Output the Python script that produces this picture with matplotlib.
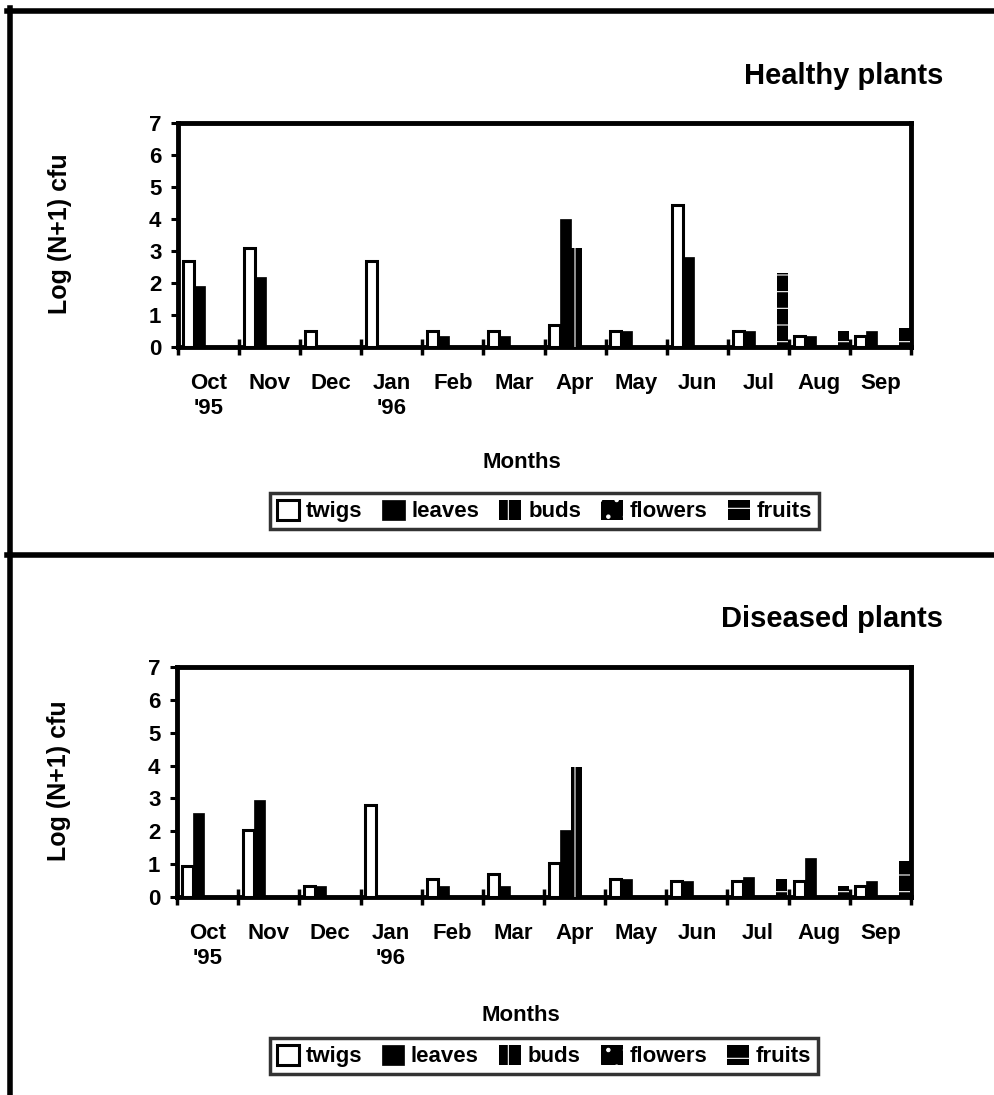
import matplotlib
matplotlib.use("Agg")
import matplotlib.pyplot as plt
from matplotlib.lines import Line2D
import numpy as np

plt.rcParams["font.family"] = ["Liberation Sans", "DejaVu Sans"]
plt.rcParams["font.weight"] = "bold"
plt.rcParams["hatch.linewidth"] = 0.8

months = ["Oct\n'95", "Nov", "Dec", "Jan\n'96", "Feb", "Mar",
          "Apr", "May", "Jun", "Jul", "Aug", "Sep"]
parts = ["twigs", "leaves", "buds", "flowers", "fruits"]

# healthy plants, Log (N+1) cfu
twigs_h = [2.7, 3.1, 0.5, 2.7, 0.5, 0.5, 0.7, 0.5, 4.45, 0.5, 0.35, 0.35]
leaves_h = [1.9, 2.2, 0, 0, 0.35, 0.35, 4.0, 0.5, 2.8, 0.5, 0.35, 0.5]
buds_h = [0, 0, 0, 0, 0, 0, 3.1, 0, 0, 0, 0, 0]
flowers_h = [0, 0, 0, 0, 0, 0, 0, 0, 0, 0, 0, 0]
fruits_h = [0, 0, 0, 0, 0, 0, 0, 0, 0, 2.3, 0.5, 0.6]

# diseased plants
twigs_d = [0.95, 2.05, 0.35, 2.8, 0.55, 0.7, 1.05, 0.55, 0.5, 0.5, 0.5, 0.35]
leaves_d = [2.55, 2.95, 0.35, 0, 0.35, 0.35, 2.05, 0.55, 0.5, 0.6, 1.2, 0.5]
buds_d = [0, 0, 0, 0, 0, 0, 3.95, 0, 0, 0, 0, 0]
flowers_d = [0, 0, 0, 0, 0, 0, 0, 0, 0, 0, 0, 0]
fruits_d = [0, 0, 0, 0, 0, 0, 0, 0, 0, 0.55, 0.35, 1.1]

STYLES = [
    dict(facecolor="white", edgecolor="black", lw=2.2),
    dict(facecolor="black", edgecolor="black", lw=0.5),
    dict(facecolor="black", edgecolor="white", lw=0, hatch="|"),
    dict(facecolor="black", edgecolor="white", lw=0, hatch="."),
    dict(facecolor="black", edgecolor="white", lw=0, hatch="-"),
]
FS = 16
W = 995 / 100
H = 1095 / 100


def px_ax(fig, x0, y0, x1, y1):
    # pixel box (top-left origin) -> figure axes
    return fig.add_axes([x0 / 995, 1 - y1 / 1095, (x1 - x0) / 995, (y1 - y0) / 1095])


def panel(ax, series, title, leg_y):
    n = len(months)
    xs = np.arange(n)
    bw = 0.18
    handles = []
    for k, (vals, st) in enumerate(zip(series, STYLES)):
        h = ax.bar(xs + 0.08 + k * bw, vals, width=bw, align="edge", zorder=3, **st)
        handles.append(h)
    ax.set_xlim(0, n)
    ax.set_ylim(0, 7)
    ax.set_yticks(range(8))
    ax.tick_params(axis="y", direction="out", length=5, width=2.2, pad=7, labelsize=FS)
    ax.set_xticks(range(n + 1))
    ax.set_xticklabels([])
    ax.tick_params(axis="x", which="major", direction="inout", length=11, width=2.5)
    ax.set_xticks(xs + 0.5, months, minor=True)
    ax.tick_params(axis="x", which="minor", length=0, pad=19, labelsize=FS)
    for s in ax.spines.values():
        s.set_linewidth(3.5)
    ax.set_ylabel("Log (N+1) cfu", fontsize=FS + 2, fontweight="bold")
    ax.yaxis.set_label_coords(-0.145, 0.505)
    ax.set_xlabel("Months", fontsize=FS, fontweight="bold")
    ax.xaxis.set_label_coords(0.469, -0.47)
    ax.text(1.044, 1.21, title, transform=ax.transAxes, ha="right", va="center",
            fontsize=FS + 5, fontweight="bold")
    leg = ax.legend(handles, parts, loc="center", bbox_to_anchor=(0.5, leg_y), ncol=5,
                    fontsize=FS, frameon=True, fancybox=False, handlelength=1.0,
                    handleheight=1.0, handletextpad=0.3, columnspacing=0.9,
                    borderpad=0.3, borderaxespad=0)
    leg.get_frame().set_edgecolor("black")
    leg.get_frame().set_linewidth(2.5)


fig = plt.figure(figsize=(W, H), dpi=100)
ax1 = px_ax(fig, 178, 123, 911, 347)
panel(ax1, [twigs_h, leaves_h, buds_h, flowers_h, fruits_h], "Healthy plants", -0.732)
ax2 = px_ax(fig, 177, 667, 911, 897)
panel(ax2, [twigs_d, leaves_d, buds_d, flowers_d, fruits_d], "Diseased plants", -0.691)

# outer frame lines of the scanned page
fig.add_artist(Line2D([10 / 995, 10 / 995], [0, 1 - 8 / 1095], color="black", lw=4))
fig.add_artist(Line2D([7 / 995, 1], [1 - 10.5 / 1095] * 2, color="black", lw=4))
fig.add_artist(Line2D([7 / 995, 1], [1 - 555 / 1095] * 2, color="black", lw=4))

fig.savefig("out.png", dpi=100, facecolor="white")
